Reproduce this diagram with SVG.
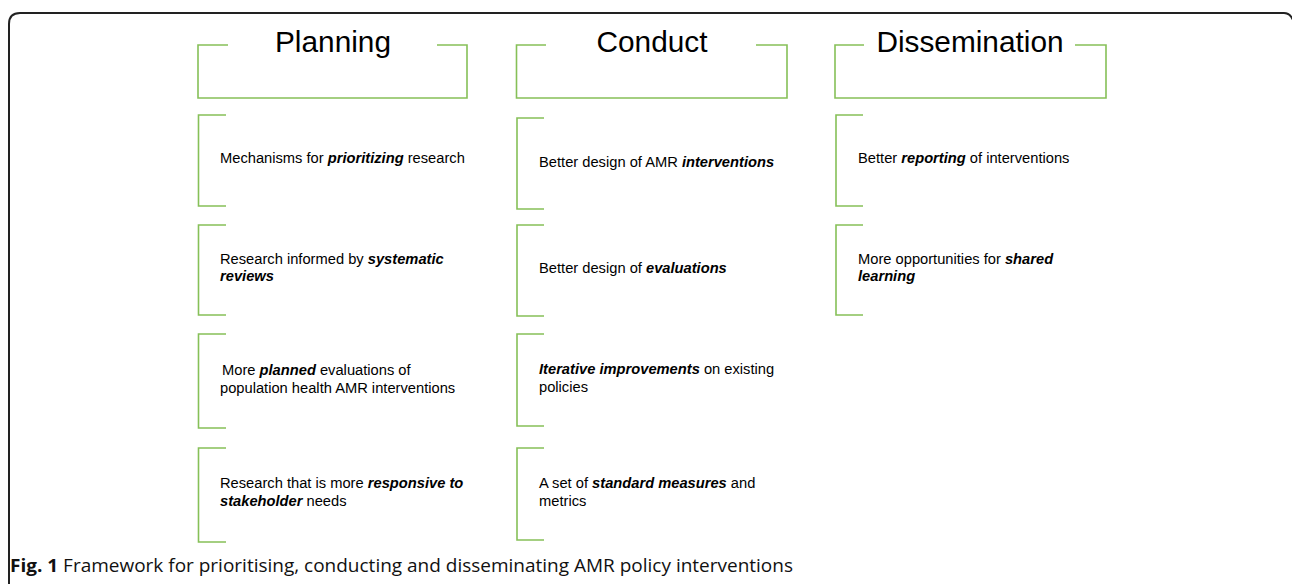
<svg xmlns="http://www.w3.org/2000/svg" width="1292" height="584" viewBox="0 0 1292 584">
<style>
.frame{fill:none;stroke:#222;stroke-width:2}
.br{fill:none;stroke:#86c058;stroke-width:1.6}
.hd{font-family:"Liberation Sans",Arial,sans-serif;font-size:29.8px;fill:#000;text-anchor:middle}
.tx{font-family:"Liberation Sans",Arial,sans-serif;font-size:14.7px;fill:#000}
.b{font-weight:bold;font-style:italic}
.cap{font-family:"Open Sans","Liberation Sans",sans-serif;font-size:18px;fill:#111}
</style>
<rect width="1292" height="584" fill="#fff"/>
<path class="frame" d="M9,584 V24 Q9,13 20,13 H1284 Q1290,13 1293,20"/>
<g id="planning-header">
<path class="br" d="M228,45 H198 V98 H467 V45 H437"/>
<text class="hd" x="333" y="52">Planning</text>
</g>
<g id="conduct-header">
<path class="br" d="M546,45 H516.5 V98 H787 V45 H756"/>
<text class="hd" x="652" y="52">Conduct</text>
</g>
<g id="dissemination-header">
<path class="br" d="M864,45 H835 V98 H1106 V45 H1075"/>
<text class="hd" x="970" y="52">Dissemination</text>
</g>
<g id="p1"><path class="br" d="M226,115 H198.5 V206 H226"/><text class="tx" x="220" y="163">Mechanisms for <tspan class="b">prioritizing</tspan> research</text></g>
<g id="p2"><path class="br" d="M226,225 H198.5 V315 H226"/><text class="tx" x="220" y="264">Research informed by <tspan class="b">systematic</tspan></text><text class="tx b" x="220" y="281">reviews</text></g>
<g id="p3"><path class="br" d="M226,334 H198.5 V428 H226"/><text class="tx" x="222" y="375">More <tspan class="b">planned</tspan> evaluations of</text><text class="tx" x="220" y="393">population health AMR interventions</text></g>
<g id="p4"><path class="br" d="M226,448 H198.5 V542 H226"/><text class="tx" x="220" y="488">Research that is more <tspan class="b">responsive to</tspan></text><text class="tx" x="220" y="506"><tspan class="b">stakeholder</tspan> needs</text></g>
<g id="c1"><path class="br" d="M544,118 H517 V209 H544"/><text class="tx" x="539" y="167">Better design of AMR <tspan class="b">interventions</tspan></text></g>
<g id="c2"><path class="br" d="M544,225 H517 V316 H544"/><text class="tx" x="539" y="273">Better design of <tspan class="b">evaluations</tspan></text></g>
<g id="c3"><path class="br" d="M544,334 H517 V426 H544"/><text class="tx" x="539" y="374"><tspan class="b">Iterative improvements</tspan> on existing</text><text class="tx" x="539" y="392">policies</text></g>
<g id="c4"><path class="br" d="M544,448 H517 V540 H544"/><text class="tx" x="539" y="488">A set of <tspan class="b">standard measures</tspan> and</text><text class="tx" x="539" y="506">metrics</text></g>
<g id="d1"><path class="br" d="M863,115 H836 V206 H863"/><text class="tx" x="858" y="163">Better <tspan class="b">reporting</tspan> of interventions</text></g>
<g id="d2"><path class="br" d="M863,225 H836 V315 H863"/><text class="tx" x="858" y="264">More opportunities for <tspan class="b">shared</tspan></text><text class="tx b" x="858" y="281">learning</text></g>
<g id="connectors"></g>
<text class="cap" x="10" y="572" textLength="783" lengthAdjust="spacingAndGlyphs"><tspan font-weight="bold">Fig. 1</tspan> Framework for prioritising, conducting and disseminating AMR policy interventions</text>
</svg>
